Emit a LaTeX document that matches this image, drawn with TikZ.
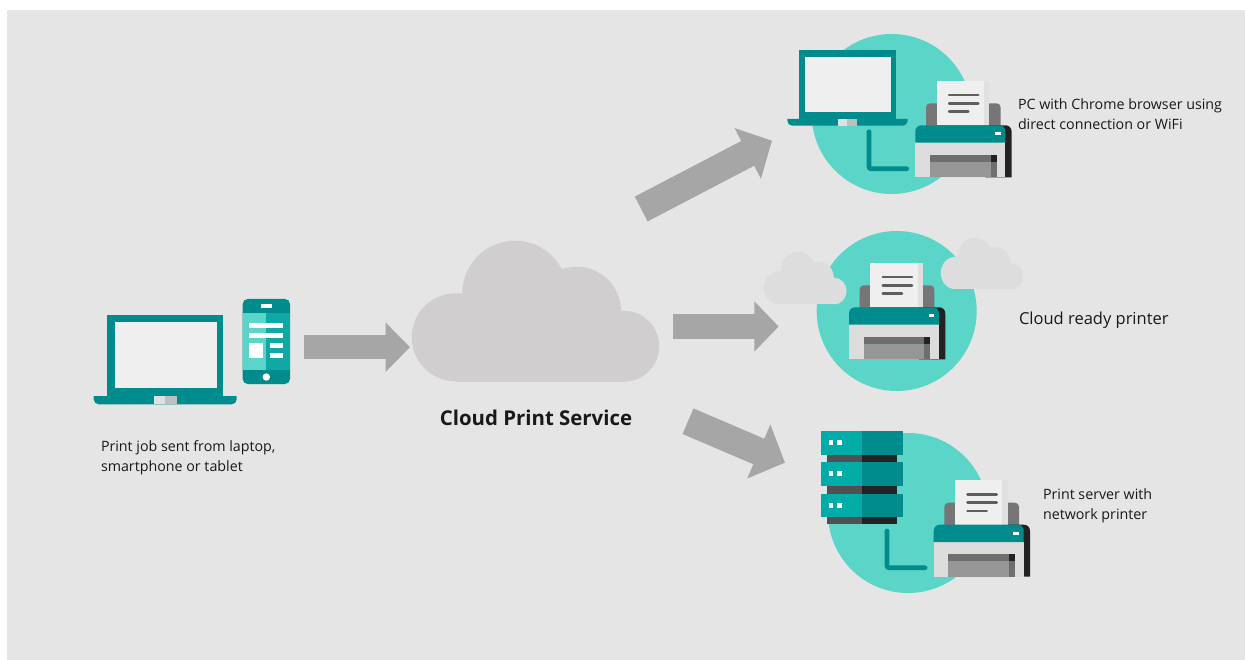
\documentclass[tikz,border=0pt]{standalone}
\usepackage{fontspec}
\setmainfont{Open Sans}
\usetikzlibrary{arrows.meta}
\definecolor{bgg}{HTML}{E5E5E5}
\definecolor{tealD}{HTML}{008C8C}
\definecolor{tealM}{HTML}{00ABA8}
\definecolor{tealS}{HTML}{0FA8A5}
\definecolor{mint}{HTML}{5AD5C8}
\definecolor{arrowg}{HTML}{A6A6A6}
\definecolor{cloudB}{HTML}{D0CECE}
\definecolor{cloudS}{HTML}{DDDDDD}
\definecolor{paperc}{HTML}{EFEFEF}
\definecolor{stripec}{HTML}{E0E0E0}
\definecolor{backc}{HTML}{767676}
\definecolor{bodyc}{HTML}{DCDCDC}
\definecolor{slotc}{HTML}{969696}
\definecolor{slott}{HTML}{6E6E6E}
\definecolor{inkd}{HTML}{222222}
\definecolor{inkm}{HTML}{505050}
\tikzset{
  x=1pt,y=-1pt,
  every node/.style={inner sep=0pt,outer sep=0pt,text=black!90},
  label14/.style={anchor=west,align=left,font=\fontsize{14.25}{20}\selectfont},
  blockarrow/.style={draw=arrowg,line width=#1},
  lconn/.style={draw=tealD,line width=4.7pt,line cap=round,rounded corners=2pt},
  printer/.pic={
    \fill[backc,rounded corners=4pt] (10.7,2) -- (10.7,-22) -- (85.3,-22) -- (85.3,2);
    \fill[paperc] (21.3,-44.3) rectangle (68.7,0);
    \fill[stripec] (68.7,-44.3) rectangle (74,0);
    \foreach \yy/\xe in {-30.3/63,-22/63,-13.7/53}
      \draw[backc!80!black,line width=2.6pt,line cap=round] (33.8,\yy) -- (\xe,\yy);
    \fill[inkd,rounded corners=6pt] (70,52) -- (70,0) -- (96.3,0) -- (96.3,52);
    \fill[bodyc] (0,17) rectangle (90,52);
    \fill[tealD,rounded corners=6pt] (0,17.3) -- (0,0) -- (90,0) -- (90,17.3);
    \fill[white] (79.7,7.2) rectangle (85.3,10.2);
    \fill[slotc] (14.7,29.7) rectangle (81.3,52);
    \fill[slott] (14.7,29.7) rectangle (81.3,36.3);
    \fill[slott] (75.3,36.3) rectangle (81.3,52);
    \fill[inkd] (75.3,29.7) rectangle (81.3,36.3);
  },
  laptop/.pic={
    \fill[tealD] (13.6,0) rectangle (129.3,82);
    \fill[paperc] (21.3,7.6) rectangle (123,73.6);
    \fill[tealD,rounded corners=5pt] (0,81.3) -- (0,89.6) -- (143,89.6) -- (143,81.3);
    \fill[stripec] (60,81.3) rectangle (71.3,89.6);
    \fill[black!25] (71.3,81.3) rectangle (83,89.6);
  },
  cloudshape/.pic={
    \fill[pic actions] (44,96.6) circle[radius=44];
    \fill[pic actions] (103.3,52.7) circle[radius=52.7];
    \fill[pic actions] (165,70.3) circle[radius=44.3];
    \fill[pic actions] (212,105.5) circle[radius=35.5];
    \fill[pic actions] (44,70) rectangle (212,141);
    \fill[pic actions] (103,45) rectangle (165,141);
  },
}
\begin{document}
\begin{tikzpicture}
\useasboundingbox (0,0) rectangle (1245,660);
\fill[white] (0,0) rectangle (1245,660);
\fill[bgg] (7,10) rectangle (1245,660);

% --- source devices
\pic at (93.7,314.7) {laptop};
\fill[tealD,rounded corners=5pt] (242.7,299) rectangle (290,384);
\fill[mint] (242.7,312.7) rectangle (266.3,370);
\fill[tealS] (266.3,312.7) rectangle (290,370);
\fill[white] (260.7,303.7) rectangle (272,308.3);
\fill[white] (249.3,323.3) rectangle (283.3,328.3);
\fill[white] (249.3,333) rectangle (283.3,338);
\fill[white] (249.3,343) rectangle (262.7,357.7);
\fill[white] (270,343) rectangle (283.3,347.7);
\fill[white] (270,352.7) rectangle (283.3,357.7);
\fill[white] (266.3,377) circle[radius=3.7];

% --- central cloud
\pic[cloudB] at (411.7,240.7) {cloudshape};

% --- target 1
\fill[mint] (891.7,114) circle[radius=80];
\pic at (787.3,50.3) [scale=0.842] {laptop};
\coordinate (l1a) at (869,131.7);
\coordinate (l1b) at (869,168.7);
\coordinate (l1c) at (906.7,168.7);
\draw[lconn] (l1a) -- (l1b) -- (l1c);
\pic at (915.3,125.3) {printer};

% --- target 2
\fill[mint] (896.7,311) circle[radius=80];
\pic[cloudS,xscale=0.3335,yscale=0.3733] at (764,251.7) {cloudshape};
\pic[cloudS,xscale=0.3335,yscale=0.366] at (940.7,237.7) {cloudshape};
\pic at (849,307.3) {printer};

% --- target 3
\fill[mint] (908,513) circle[radius=80];
\foreach \yt/\yb/\ybb/\ym in {431/455.3/462.3/442.3,462.3/486.3/493.7/473.3,493.7/517.3/524.3/505.3}{
  \fill[inkm] (826.7,\yb) rectangle (861.7,\ybb);
  \fill[inkd] (861.7,\yb) rectangle (897.3,\ybb);
  \fill[tealM] (821.3,\yt) rectangle (861.7,\yb);
  \fill[tealD] (861.7,\yt) rectangle (902.7,\yb);
  \fill[white] (828.7,\ym-2.4) rectangle (833.3,\ym+2.4);
  \fill[white] (837,\ym-2.4) rectangle (841.7,\ym+2.4);
}
\coordinate (l3a) at (887,531);
\coordinate (l3b) at (887,567.7);
\coordinate (l3c) at (925,567.7);
\draw[lconn] (l3a) -- (l3b) -- (l3c);
\pic at (933.7,524.7) {printer};

% --- block arrows
\coordinate (a0s) at (304.3,347.2);
\coordinate (a0e) at (410,347.2);
\coordinate (a1s) at (641.2,209);
\coordinate (a1e) at (772,140.7);
\coordinate (a2s) at (673.3,326.5);
\coordinate (a2e) at (778.7,326.5);
\coordinate (a3s) at (688,421.2);
\coordinate (a3e) at (785,462.7);
\draw[blockarrow=24.3pt,-{Triangle[length=24.3pt,width=47.7pt]}] (a0s) -- (a0e);
\draw[blockarrow=27.9pt,-{Triangle[length=27.4pt,width=55.5pt]}] (a1s) -- (a1e);
\draw[blockarrow=24.3pt,-{Triangle[length=24.3pt,width=48.7pt]}] (a2s) -- (a2e);
\draw[blockarrow=27.8pt,-{Triangle[length=28.5pt,width=57pt]}] (a3s) -- (a3e);

% --- labels
\node[label14] (tsrc) at (101,457.5) {Print job sent from laptop,\\smartphone or tablet};
\node[anchor=center,font=\fontsize{20.4}{25}\selectfont\bfseries] (tsvc) at (536,418) {Cloud Print Service};
\node[label14] (t1) at (1018,114) {PC with Chrome browser using\\direct connection or WiFi};
\node[label14,font=\fontsize{16.5}{20}\selectfont] (t2) at (1019,320) {Cloud ready printer};
\node[label14] (t3) at (1043,505.5) {Print server with\\network printer};
\end{tikzpicture}
\end{document}
